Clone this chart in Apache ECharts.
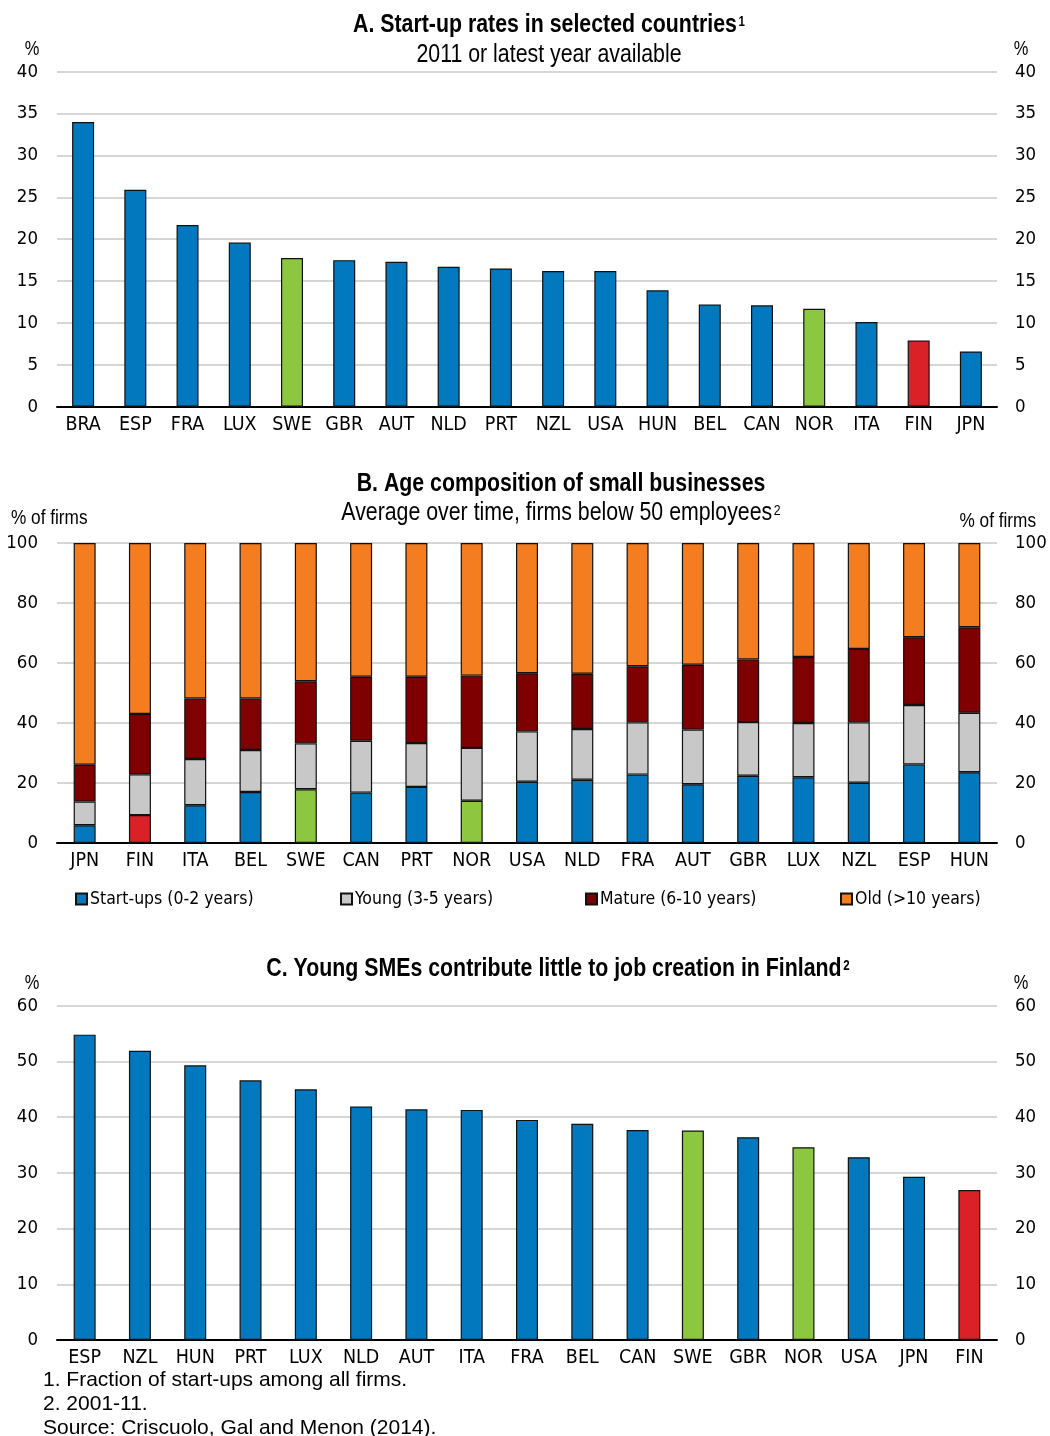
<!DOCTYPE html>
<html><head><meta charset="utf-8">
<script src="https://cdn.jsdelivr.net/npm/echarts@6/dist/echarts.min.js"></script>
<style>html,body{margin:0;padding:0;background:#fff}#c{width:1050px;height:1436px}</style>
</head><body><div id="c"></div>
<script>
// ---- Data ----
const catA = ['BRA','ESP','FRA','LUX','SWE','GBR','AUT','NLD','PRT','NZL','USA','HUN','BEL','CAN','NOR','ITA','FIN','JPN'];
const startupRateA = [34.0,25.9,21.7,19.6,17.75,17.5,17.3,16.7,16.5,16.2,16.2,13.9,12.2,12.1,11.7,10.1,7.9,6.6];

const catB = ['JPN','FIN','ITA','BEL','SWE','CAN','PRT','NOR','USA','NLD','FRA','AUT','GBR','LUX','NZL','ESP','HUN'];
const startupsB = [5.9,9.3,12.6,17.0,17.9,16.8,18.7,14.1,20.4,21.1,22.8,19.6,22.4,21.9,20.1,26.2,23.6];
const youngB    = [7.9,13.6,15.4,14.0,15.3,17.3,14.6,17.6,16.8,16.9,17.4,18.2,17.9,18.1,20.1,19.8,19.8];
const matureB   = [12.3,20.1,20.2,17.2,20.7,21.3,22.1,24.1,19.4,18.4,18.7,21.6,20.9,22.0,24.5,22.6,28.5];
const oldB      = [73.9,57.0,51.8,51.8,46.1,44.6,44.6,44.2,43.4,43.6,41.1,40.6,38.8,38.0,35.3,31.4,28.1];
const seriesNamesB = ['Start-ups (0-2 years)','Young (3-5 years)','Mature (6-10 years)','Old (>10 years)'];

const catC = ['ESP','NZL','HUN','PRT','LUX','NLD','AUT','ITA','FRA','BEL','CAN','SWE','GBR','NOR','USA','JPN','FIN'];
const jobCreationC = [54.8,51.9,49.3,46.6,45.0,41.9,41.4,41.3,39.5,38.8,37.7,37.6,36.4,34.6,32.8,29.3,26.9];

const ticksA = [0,5,10,15,20,25,30,35,40];
const ticksB = [0,20,40,60,80,100];
const ticksC = [0,10,20,30,40,50,60];

// ---- Styles ----
const FN = "'DejaVu Sans Condensed','Liberation Sans',sans-serif";
const FR = "'Liberation Sans',Arial,sans-serif";
const NARROW = 0.82;
const BLUE = '#0279BF', GREEN = '#8DC63F', RED = '#DA2128', GREY = '#C8C8C8', DRED = '#7F0000', ORANGE = '#F47D20';
const highlight = {SWE: GREEN, NOR: GREEN, FIN: RED};
const colorFor = c => highlight[c] || BLUE;

const grids = [
  {left: 57, width: 940, top: 71.7, height: 335},
  {left: 57, width: 940, top: 543, height: 300},
  {left: 57, width: 940, top: 1005.7, height: 334.3}
];
const tickSets = [ticksA, ticksB, ticksC];
const cats = [catA, catB, catC];

const xAxes = cats.map((c, i) => ({
  type: 'category', gridIndex: i, data: c,
  axisLine: {lineStyle: {color: '#000', width: 2}},
  axisTick: {show: false},
  axisLabel: {color: '#000', fontFamily: FN, fontSize: 19.5, margin: 8, interval: 0}
}));
const yAxes = [];
tickSets.forEach((t, i) => {
  const common = {type: 'value', gridIndex: i, min: t[0], max: t[t.length - 1], interval: t[1] - t[0],
    axisLine: {show: false}, axisTick: {show: false}};
  yAxes.push(Object.assign({}, common, {position: 'left',
    splitLine: {lineStyle: {color: '#D6D6D6', width: 2}},
    axisLabel: {color: '#000', fontFamily: FN, fontSize: 18.5, margin: 19}}));
  yAxes.push(Object.assign({}, common, {position: 'right', splitLine: {show: false},
    axisLabel: {color: '#000', fontFamily: FN, fontSize: 18.5, margin: 18}}));
});

const border = {borderColor: '#111', borderWidth: 1.2};
const series = [];
series.push({type: 'bar', xAxisIndex: 0, yAxisIndex: 0, barWidth: 22,
  data: startupRateA.map((v, k) => ({value: v, itemStyle: Object.assign({color: colorFor(catA[k])}, border)}))});
const bCols = [BLUE, GREY, DRED, ORANGE];
[startupsB, youngB, matureB, oldB].forEach((arr, j) => {
  series.push({type: 'bar', name: seriesNamesB[j], stack: 'b', xAxisIndex: 1, yAxisIndex: 2, barWidth: 22,
    itemStyle: Object.assign({color: bCols[j]}, border),
    data: arr.map((v, k) => j === 0 ? ({value: v, itemStyle: Object.assign({color: colorFor(catB[k])}, border)}) : v)});
});
series.push({type: 'bar', xAxisIndex: 2, yAxisIndex: 4, barWidth: 22,
  data: jobCreationC.map((v, k) => ({value: v, itemStyle: Object.assign({color: colorFor(catC[k])}, border)}))});

const legendX = [70, 335, 580, 835];
const legends = seriesNamesB.map((n, j) => ({
  data: [n], left: legendX[j], top: 885, icon: 'rect', itemWidth: 11, itemHeight: 11, itemGap: 0,
  selectedMode: false,
  textStyle: {color: '#000', fontFamily: FN, fontSize: 17.5, padding: [0, 0, 0, -2]}
}));

const rich = {
  b: {font: 'bold 26px ' + FR, fill: '#000', lineHeight: 30},
  r: {font: '26px ' + FR, fill: '#000', lineHeight: 30},
  sb: {font: 'bold 14px ' + FR, fill: '#000', lineHeight: 14, verticalAlign: 'top', padding: [5, 0, 0, 2]},
  sr: {font: '15px ' + FR, fill: '#000', lineHeight: 14, verticalAlign: 'top', padding: [5, 0, 0, 2]}
};
function ttl(text, x, y) {
  return {type: 'text', x: x, y: y, scaleX: NARROW,
    style: {text: text, rich: rich, align: 'center', verticalAlign: 'middle'}};
}
function txt(t, x, y, align, font, size, sx) {
  return {type: 'text', x: x, y: y, scaleX: sx || 1,
    style: {text: t, fill: '#000', font: size + 'px ' + font, align: align, verticalAlign: 'middle'}};
}
const graphics = [
  ttl('{b|A. Start-up rates in selected countries}{sb|1}', 549, 25),
  ttl('{r|2011 or latest year available}', 549, 55),
  ttl('{b|B. Age composition of small businesses}', 561, 484),
  ttl('{r|Average over time, firms below 50 employees}{sr|2}', 561, 513),
  ttl('{b|C. Young SMEs contribute little to job creation in Finland}{sb|2}', 558, 969),
  txt('%', 32, 49, 'center', FR, 20, NARROW),
  txt('%', 1021, 49, 'center', FR, 20, NARROW),
  txt('% of firms', 11, 518, 'left', FR, 21, NARROW),
  txt('% of firms', 1036, 521, 'right', FR, 21, NARROW),
  txt('%', 32, 983, 'center', FR, 20, NARROW),
  txt('%', 1021, 983, 'center', FR, 20, NARROW),
  txt('1. Fraction of start-ups among all firms.', 43, 1380, 'left', FR, 21),
  txt('2. 2001-11.', 43, 1404, 'left', FR, 21),
  txt('Source: Criscuolo, Gal and Menon (2014).', 43, 1428, 'left', FR, 21)
];

const chart = echarts.init(document.getElementById('c'), null, {renderer: 'canvas'});
chart.setOption({
  animation: false,
  backgroundColor: '#fff',
  legend: legends,
  grid: grids,
  xAxis: xAxes,
  yAxis: yAxes,
  series: series,
  graphic: graphics
});
</script></body></html>
